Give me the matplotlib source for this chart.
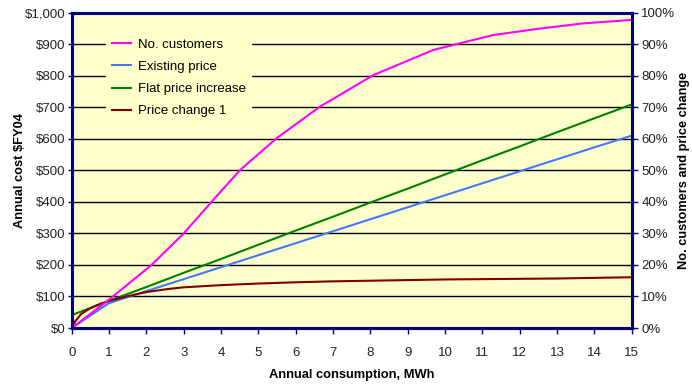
import numpy as np
import matplotlib
matplotlib.use("Agg")
import matplotlib.pyplot as plt
from matplotlib.ticker import FuncFormatter

plt.rcParams['font.family'] = ['Liberation Sans', 'DejaVu Sans']

# consumption (MWh) and annual cost ($FY04)
mwh = [0, 1, 2, 3, 4, 5, 6, 7, 8, 9, 10, 11, 12, 13, 14, 15]
existing_price = [0, 79, 117, 155, 193, 231, 269, 307, 345, 383, 421, 459, 497, 535, 573, 610]
flat_increase = [41, 86, 130, 175, 219, 264, 309, 353, 398, 442, 487, 532, 576, 621, 665, 709]

pc1_mwh = [0, 0.1, 0.25, 0.5, 0.75, 1, 1.5, 2, 2.6, 3, 4, 5, 6, 7, 8, 9, 10, 11, 12, 13, 14, 15]
price_change_1 = [0, 22, 44, 63, 76, 86, 101, 114, 124, 129, 136, 141, 145, 148, 150, 152, 154, 155, 156, 157, 159, 161]

# share of customers (%) below each consumption level
cust_mwh = [0, 1, 2.14, 3, 3.79, 4.51, 5.49, 6.65, 8.08, 9.69, 10.4, 11.29, 12.5, 13.7, 15]
customers = [0, 9.0, 20.0, 30.0, 40.6, 50.1, 60.2, 70.2, 80.2, 88.2, 90.3, 92.9, 94.9, 96.6, 97.7]

navy = '#000080'
bg = '#FFFFCC'

fig = plt.figure(figsize=(6.92, 3.84), dpi=100)
ax = fig.add_axes([0.1036, 0.1458, 0.8093, 0.8212])
ax2 = ax.twinx()
ax.set_facecolor(bg)

ax.set_xlim(0, 15)
ax.set_ylim(0, 1000)
ax2.set_ylim(0, 100)

ax.set_yticks(range(0, 1001, 100))
ax.yaxis.set_major_formatter(FuncFormatter(lambda v, p: '${:,.0f}'.format(v)))
ax2.set_yticks(range(0, 101, 10))
ax2.yaxis.set_major_formatter(FuncFormatter(lambda v, p: '{:.0f}%'.format(v)))
ax.set_xticks(mwh)

for y in range(100, 1000, 100):
    ax.axhline(y, color='black', lw=1.0, zorder=1)

l_cust, = ax2.plot(cust_mwh, customers, color='#FF00FF', lw=1.5, label='No. customers')
l_exist, = ax.plot(mwh, existing_price, color='#4477FF', lw=1.5, label='Existing price', zorder=3)
l_flat, = ax.plot(mwh, flat_increase, color='#008000', lw=1.5, label='Flat price increase', zorder=3)
l_pc1, = ax.plot(pc1_mwh, price_change_1, color='#800000', lw=1.5, label='Price change 1', zorder=3)

for a in (ax, ax2):
    for s in a.spines.values():
        s.set_color(navy)
        s.set_linewidth(2.2)
    a.tick_params(colors=navy, labelcolor='#222222', labelsize=9.5, width=1, length=3, pad=1.5)
ax.tick_params(axis='x', length=4, pad=10)
ax2.tick_params(axis='y', length=4, pad=3)

ax.set_xlabel('Annual consumption, MWh', fontweight='bold', fontsize=9.3, labelpad=7)
ax.set_ylabel('Annual cost $FY04', fontweight='bold', fontsize=9.3, labelpad=-1)
ax2.set_ylabel('No. customers and price change', fontweight='bold', fontsize=9.2, labelpad=1.5)

leg = ax2.legend(handles=[l_cust, l_exist, l_flat, l_pc1], loc='upper left',
                 bbox_to_anchor=(0.05, 0.955), frameon=True, facecolor=bg, edgecolor=bg,
                 framealpha=1, fancybox=False, handlelength=1.45, handletextpad=0.55,
                 labelspacing=0.75, borderpad=0.4, fontsize=9.5)

fig.savefig('out.png', dpi=100)
